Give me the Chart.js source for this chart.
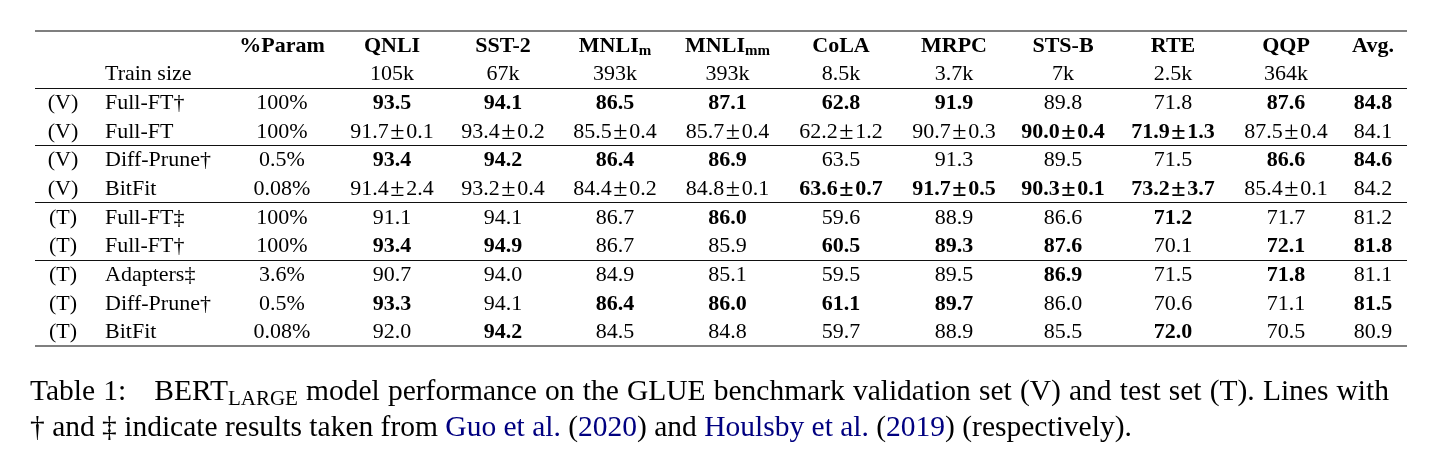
<!DOCTYPE html>
<html>
<head>
<meta charset="utf-8">
<script src="https://cdn.jsdelivr.net/npm/chart.js@4.4.1/dist/chart.umd.min.js"></script>
<style>
  html, body { margin: 0; padding: 0; background: #fff; }
  #wrap { width: 1454px; height: 473px; }
</style>
</head>
<body>
<div id="wrap"><canvas id="table"></canvas></div>
<script>
// header columns
const tasks = ['QNLI', 'SST-2', 'MNLI', 'MNLI', 'CoLA', 'MRPC', 'STS-B', 'RTE', 'QQP', 'Avg.'];
const taskSubs = ['', '', 'm', 'mm', '', '', '', '', '', ''];
const trainSizes = ['105k', '67k', '393k', '393k', '8.5k', '3.7k', '7k', '2.5k', '364k', ''];

// row labels
const splits = ['(V)', '(V)', '(V)', '(V)', '(T)', '(T)', '(T)', '(T)', '(T)'];
const methods = ['Full-FT†', 'Full-FT', 'Diff-Prune†', 'BitFit', 'Full-FT‡', 'Full-FT†', 'Adapters‡', 'Diff-Prune†', 'BitFit'];
const params = ['100%', '100%', '0.5%', '0.08%', '100%', '100%', '3.6%', '0.5%', '0.08%'];

// scores: QNLI, SST-2, MNLIm, MNLImm, CoLA, MRPC, STS-B, RTE, QQP, Avg.
const fullFtDagV  = [93.5, 94.1, 86.5, 87.1, 62.8, 91.9, 89.8, 71.8, 87.6, 84.8];
const fullFtV     = [91.7, 93.4, 85.5, 85.7, 62.2, 90.7, 90.0, 71.9, 87.5, 84.1];
const diffPruneV  = [93.4, 94.2, 86.4, 86.9, 63.5, 91.3, 89.5, 71.5, 86.6, 84.6];
const bitFitV     = [91.4, 93.2, 84.4, 84.8, 63.6, 91.7, 90.3, 73.2, 85.4, 84.2];
const fullFtDdagT = [91.1, 94.1, 86.7, 86.0, 59.6, 88.9, 86.6, 71.2, 71.7, 81.2];
const fullFtDagT  = [93.4, 94.9, 86.7, 85.9, 60.5, 89.3, 87.6, 70.1, 72.1, 81.8];
const adaptersT   = [90.7, 94.0, 84.9, 85.1, 59.5, 89.5, 86.9, 71.5, 71.8, 81.1];
const diffPruneT  = [93.3, 94.1, 86.4, 86.0, 61.1, 89.7, 86.0, 70.6, 71.1, 81.5];
const bitFitT     = [92.0, 94.2, 84.5, 84.8, 59.7, 88.9, 85.5, 72.0, 70.5, 80.9];

// standard deviations (validation runs only)
const fullFtVStd = [0.1, 0.2, 0.4, 0.4, 1.2, 0.3, 0.4, 1.3, 0.4, null];
const bitFitVStd = [2.4, 0.4, 0.2, 0.1, 0.7, 0.5, 0.1, 3.7, 0.1, null];

// bold (best) marks
const bestFullFtDagV  = [1, 1, 1, 1, 1, 1, 0, 0, 1, 1];
const bestFullFtV     = [0, 0, 0, 0, 0, 0, 1, 1, 0, 0];
const bestDiffPruneV  = [1, 1, 1, 1, 0, 0, 0, 0, 1, 1];
const bestBitFitV     = [0, 0, 0, 0, 1, 1, 1, 1, 0, 0];
const bestFullFtDdagT = [0, 0, 0, 1, 0, 0, 0, 1, 0, 0];
const bestFullFtDagT  = [1, 1, 0, 0, 1, 1, 1, 0, 1, 1];
const bestAdaptersT   = [0, 0, 0, 0, 0, 0, 1, 0, 1, 0];
const bestDiffPruneT  = [1, 0, 1, 1, 1, 1, 0, 0, 0, 1];
const bestBitFitT     = [0, 1, 0, 0, 0, 0, 0, 1, 0, 0];

const scores = [fullFtDagV, fullFtV, diffPruneV, bitFitV, fullFtDdagT, fullFtDagT, adaptersT, diffPruneT, bitFitT];
const stds = [null, fullFtVStd, null, bitFitVStd, null, null, null, null, null];
const best = [bestFullFtDagV, bestFullFtV, bestDiffPruneV, bestBitFitV, bestFullFtDdagT, bestFullFtDagT, bestAdaptersT, bestDiffPruneT, bestBitFitT];

// layout (x in px from the table's left rule, y in rows)
const splitX = 28, methodX = 70, paramX = 247;
const taskX = [357, 468, 580, 692.5, 806, 919, 1028, 1138, 1251, 1338];
const rules = [-0.5, 1.5, 3.5, 5.5, 7.5, 10.5];

const serif = '"Liberation Serif", "Times New Roman", serif';

// build one point per cell
const cells = [];
cells.push({x: paramX, y: 0, text: '%Param', bold: true});
tasks.forEach((t, i) => cells.push({x: taskX[i], y: 0, text: t, sub: taskSubs[i], bold: true}));
cells.push({x: methodX, y: 1, text: 'Train size', align: 'left'});
trainSizes.forEach((t, i) => { if (t) cells.push({x: taskX[i], y: 1, text: t}); });
scores.forEach((row, r) => {
  const y = r + 2;
  cells.push({x: splitX, y: y, text: splits[r]});
  cells.push({x: methodX, y: y, text: methods[r], align: 'left'});
  cells.push({x: paramX, y: y, text: params[r]});
  row.forEach((v, i) => {
    const c = {x: taskX[i], y: y, text: v.toFixed(1), bold: best[r][i] === 1};
    if (stds[r] && stds[r][i] != null) c.pm = stds[r][i].toFixed(1);
    cells.push(c);
  });
});

function drawCell(ctx, c, x, y) {
  const w = c.bold ? 'bold ' : '';
  const mainFont = w + '22px ' + serif;
  const subFont = w + '15px ' + serif;
  const pmFont = w + '26px ' + serif; // ± looks bigger in the original
  const pad = 1.5;
  ctx.font = mainFont;
  const w1 = ctx.measureText(c.text).width;
  let w2 = 0;
  let wPm = 0;
  if (c.pm) {
    w2 = ctx.measureText(c.pm).width;
    ctx.font = pmFont;
    wPm = ctx.measureText('±').width;
    w2 += 2 * pad + wPm;
  }
  if (c.sub) { ctx.font = subFont; w2 = ctx.measureText(c.sub).width; }
  const x0 = c.align === 'left' ? x : x - (w1 + w2) / 2;
  ctx.font = mainFont;
  ctx.fillText(c.text, x0, y);
  if (c.pm) {
    ctx.fillText(c.pm, x0 + w1 + 2 * pad + wPm, y);
    ctx.font = pmFont;
    ctx.fillText('±', x0 + w1 + pad, y + 1);
  }
  if (c.sub) { ctx.font = subFont; ctx.fillText(c.sub, x0 + w1, y + 3); }
}

const cellText = {
  id: 'cellText',
  afterDatasetsDraw(chart) {
    const ctx = chart.ctx;
    const meta = chart.getDatasetMeta(0);
    const data = chart.data.datasets[0].data;
    ctx.save();
    ctx.fillStyle = '#000';
    ctx.textAlign = 'left';
    ctx.textBaseline = 'alphabetic';
    meta.data.forEach((el, i) => drawCell(ctx, data[i], el.x, el.y + 6.5));
    ctx.restore();
  }
};

// caption: first line justified, second line ragged
const capFont = '29.5px ' + serif;
const capSubFont = '21px ' + serif;
const link = '#000080';
const line1 = [[{t: 'Table'}], [{t: '1:'}], [{t: 'BERT'}, {t: 'LARGE', sub: true}]]
  .concat('model performance on the GLUE benchmark validation set (V) and test set (T). Lines with'.split(' ').map(w => [{t: w}]));
const line2 = [
  {t: '† and ‡ indicate results taken from '}, {t: 'Guo et al.', c: link}, {t: ' ('}, {t: '2020', c: link},
  {t: ') and '}, {t: 'Houlsby et al.', c: link}, {t: ' ('}, {t: '2019', c: link}, {t: ') (respectively).'}
];

function runWidth(ctx, r) {
  ctx.font = r.sub ? capSubFont : capFont;
  return ctx.measureText(r.t).width;
}
function drawRun(ctx, r, x, y) {
  ctx.font = r.sub ? capSubFont : capFont;
  ctx.fillStyle = r.c || '#000';
  ctx.fillText(r.t, x, y + (r.sub ? 5 : 0));
  return ctx.measureText(r.t).width;
}

const caption = {
  id: 'caption',
  afterDraw(chart) {
    const ctx = chart.ctx;
    const left = chart.chartArea.left - 5;
    const right = left + 1359;
    const y1 = chart.chartArea.bottom + 54;
    const y2 = y1 + 36;
    ctx.save();
    ctx.textAlign = 'left';
    ctx.textBaseline = 'alphabetic';
    const wordW = line1.map(w => w.reduce((s, r) => s + runWidth(ctx, r), 0));
    const extra = 20; // wider gap after the label
    const total = wordW.reduce((a, b) => a + b, 0) + extra;
    const gap = (right - left - total) / (line1.length - 1);
    let x = left;
    line1.forEach((w, i) => {
      w.forEach(r => { x += drawRun(ctx, r, x, y1); });
      x += gap + (i === 1 ? extra : 0);
    });
    x = left;
    line2.forEach(r => { x += drawRun(ctx, r, x, y2); });
    ctx.restore();
  }
};

new Chart(document.getElementById('table'), {
  type: 'scatter',
  data: {
    datasets: [{
      data: cells,
      pointRadius: 0,
      pointHoverRadius: 0
    }]
  },
  options: {
    responsive: true,
    maintainAspectRatio: false,
    animation: false,
    events: [],
    layout: { padding: { left: 35, right: 47, top: 31, bottom: 127 } },
    scales: {
      x: { type: 'linear', display: false, min: 0, max: 1372 },
      y: {
        type: 'linear', reverse: true, min: -0.5, max: 10.5,
        afterBuildTicks: s => { s.ticks = rules.map(v => ({value: v})); },
        ticks: { display: false },
        border: { display: false },
        grid: {
          drawTicks: false,
          color: c => (c.tick && (c.tick.value === -0.5 || c.tick.value === 10.5)) ? '#7f7f7f' : '#111',
          lineWidth: c => (c.tick && (c.tick.value === -0.5 || c.tick.value === 10.5)) ? 2 : 1
        }
      }
    },
    plugins: { legend: { display: false }, tooltip: { enabled: false } }
  },
  plugins: [cellText, caption]
});
</script>
</body>
</html>
